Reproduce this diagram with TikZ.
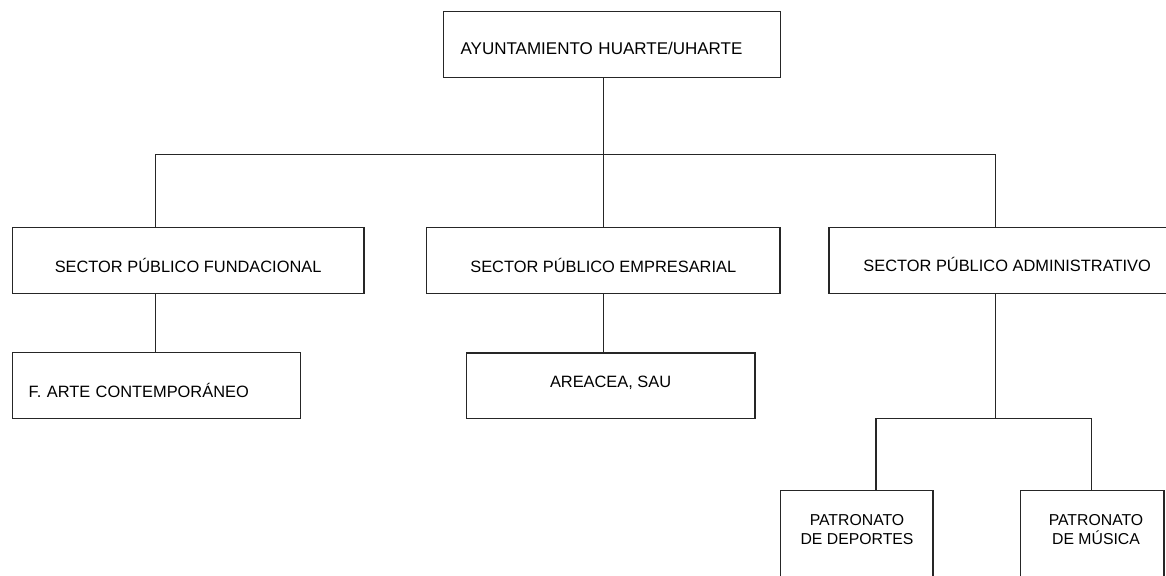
\documentclass[tikz,border=0pt]{standalone}
\usepackage{fontspec}
\setmainfont{Liberation Sans}
\begin{document}
\begin{tikzpicture}[x=1pt,y=-1pt,
  box/.style={draw=black!85, line width=1.2pt, rectangle, inner sep=0pt, anchor=north west,
              font=\fontsize{16.4}{19}\selectfont, text depth=0pt},
  conn/.style={draw=black!85, line width=1.2pt},
  small/.style={font=\fontsize{15.8}{18.6}\selectfont, align=center, inner sep=0pt, anchor=north}
]
\useasboundingbox[fill=white] (0,0) rectangle (1166,575);
\clip (0,0) rectangle (1166,575);

% top
\node[box, minimum width=337pt, minimum height=66pt, text width=303pt, inner xsep=17pt,
      align=left, text height=20pt, font=\fontsize{17}{20}\selectfont] (top) at (443,11) {AYUNTAMIENTO HUARTE/UHARTE};

% sectors
\node[box, minimum width=351.6pt, minimum height=66pt, text height=24.6pt] (fund) at (11.7,226.7) {SECTOR PÚBLICO FUNDACIONAL};
\node[box, minimum width=353.3pt, minimum height=66pt, text height=24pt] (emp) at (426,226.7) {SECTOR PÚBLICO EMPRESARIAL};
\node[box, minimum width=356.4pt, minimum height=66pt, text height=22.6pt] (adm) at (828.3,226.7) {SECTOR PÚBLICO ADMINISTRATIVO};

% entities
\node[box, minimum width=288.3pt, minimum height=66.5pt, text width=255.7pt, inner xsep=16.3pt,
      align=left, text height=23.5pt] (arte) at (11.7,351.7) {F. ARTE CONTEMPORÁNEO};
\node[box, minimum width=288.6pt, minimum height=65.4pt, text height=4pt] (area) at (465.7,352.3) {AREACEA, SAU};

% patronatos (open at the bottom of the picture)
\node[box, minimum width=152.3pt, minimum height=120pt] (dep) at (780,490) {};
\node[box, minimum width=143.3pt, minimum height=120pt] (mus) at (1020,490) {};
\node[small] (depT) at (857,514.4) {PATRONATO\\DE DEPORTES};
\node[small] (musT) at (1096,514.4) {PATRONATO\\DE MÚSICA};

% connectors
\coordinate (busL) at (155.7,154.5);
\coordinate (busC) at (603.8,154.5);
\coordinate (busR) at (995.7,154.5);
\coordinate (bus2) at (995.7,418.3);
\coordinate (bus2L) at (876,418.3);
\coordinate (bus2R) at (1091.7,418.3);

\draw[conn] (busL |- fund.north) -- (busL) -- (busR) -- (busR |- adm.north);
\draw[conn] (top.south -| busC) -- (busC |- emp.north);
\draw[conn] (fund.south -| busL) -- (busL |- arte.north);
\draw[conn] (emp.south -| busC) -- (busC |- area.north);
\draw[conn] (adm.south -| bus2) -- (bus2);
\draw[conn] (bus2L |- dep.north) -- (bus2L) -- (bus2R) -- (bus2R |- mus.north);
\end{tikzpicture}
\end{document}
